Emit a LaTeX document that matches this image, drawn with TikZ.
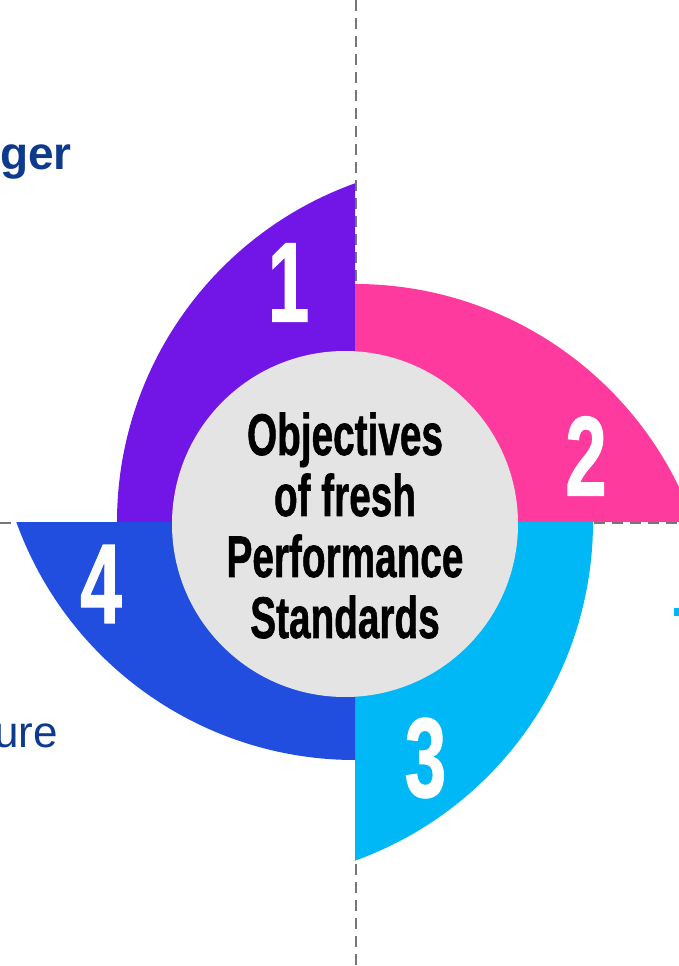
\documentclass[tikz,border=0pt]{standalone}
\usepackage{fontspec}
\setsansfont{Liberation Sans}
\newfontfamily\heavyfont[FakeBold=1.2]{Liberation Sans Bold}
\usetikzlibrary{positioning}
\definecolor{lobeviolet}{HTML}{7216E8}
\definecolor{lobepink}{HTML}{FF3A9E}
\definecolor{lobecyan}{HTML}{00B8F5}
\definecolor{lobeblue}{HTML}{214EDF}
\definecolor{hubgray}{HTML}{E4E4E4}
\definecolor{labelblue}{HTML}{0E3A8E}
\definecolor{axisgray}{HTML}{777777}
\begin{document}
\begin{tikzpicture}[x=1pt, y=1pt, axis line/.style={draw=axisgray,line width=2.6pt,dash pattern=on 11pt off 7pt}, num node/.style={text=white,inner sep=0pt,xscale=0.66,transform shape,font=\heavyfont\fontsize{113}{113}\selectfont}, hub node/.style={circle,fill=hubgray,minimum size=346pt,inner sep=0pt}]%
\fill[white] (-355,-444) rectangle (324,522);
\clip (-355,-444) rectangle (324,522);
\coordinate (top) at (1,522);
\coordinate (bottom) at (1,-444);
\coordinate (left) at (-355,-1);
\coordinate (right) at (324,-1);
\draw[axis line] (top) -- (bottom);
\draw[axis line] (left) -- (right);
\fill[lobeviolet] (0,0) -- (0,338.7) arc[start angle=109.81,end angle=180,radius=360] -- cycle;
\fill[lobepink] (0,0) -- (0,238) arc[start angle=90,end angle=19.81,radius=360] -- cycle;
\fill[lobecyan] (0,0) -- (238,0) arc[start angle=0,end angle=-70.19,radius=360] -- cycle;
\fill[lobeblue] (0,0) -- (0,-238) arc[start angle=-90,end angle=-160.19,radius=360] -- cycle;
\node[hub node] (hub) at (-10,-2) {};
\node[align=center,inner sep=0pt,xscale=0.66,transform shape,font=\heavyfont\fontsize{58.7}{61}\selectfont] (title) at (-10,-3.5) {Objectives\\of fresh\\Performance\\Standards};
\begin{scope}[every node/.style={num node}]
\node (n1) at (-66.5,239.5) {1};
\node (n2) at (231,66) {2};
\node (n3) at (70.5,-236) {3};
\node (n4) at (-254,-62) {4};
\end{scope}
\node[anchor=base east,inner sep=0pt,text=labelblue,font=\sffamily\bfseries\fontsize{46}{46}\selectfont] (ger) at (-283,352) {ger};
\node[anchor=base east,inner sep=0pt,text=labelblue,font=\sffamily\fontsize{44}{44}\selectfont] (ure) at (-297,-225) {ure};
\fill[lobecyan] (319,-86) rectangle (324,-94);
\end{tikzpicture}
\end{document}
